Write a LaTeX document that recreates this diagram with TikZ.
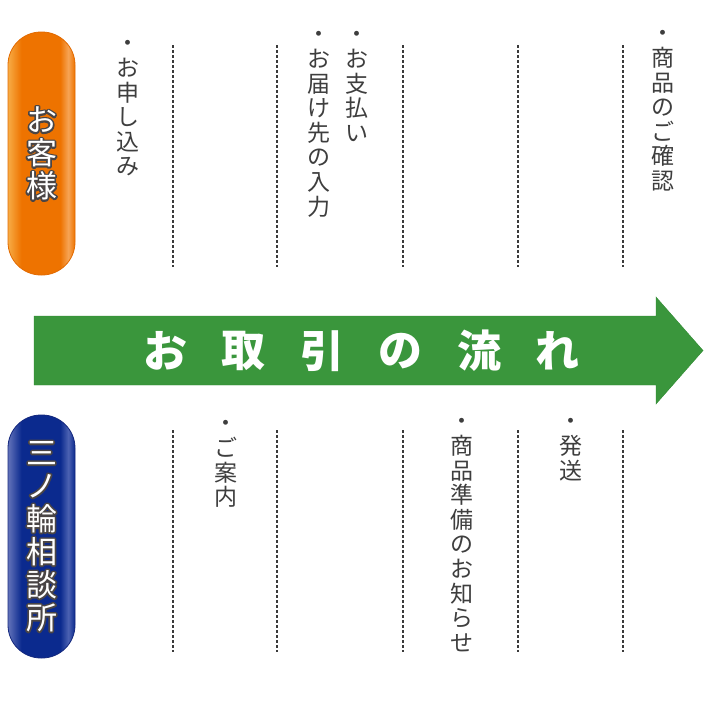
\documentclass[tikz,border=0pt]{standalone}
\usepackage{fontspec}
\setmainfont{Noto Sans CJK JP}
\definecolor{flowgreen}{HTML}{3A963C}
\definecolor{flowedge}{HTML}{2F8A32}
\definecolor{notegray}{HTML}{3E3E3E}
\definecolor{linegray}{HTML}{3A3A3A}
\definecolor{halogray}{HTML}{4A4545}
\definecolor{guestlight}{HTML}{F7AC45}
\definecolor{guestbody}{HTML}{EE7300}
\definecolor{guestshine}{HTML}{F6A455}
\definecolor{guestedge}{HTML}{E26A00}
\definecolor{shoplight}{HTML}{6373BA}
\definecolor{shopbody}{HTML}{0B2A8E}
\definecolor{shopshine}{HTML}{4C62B2}
\definecolor{shopedge}{HTML}{14287E}
\pgfdeclarehorizontalshading{guestshade}{100bp}{color(0bp)=(guestlight); color(25bp)=(guestlight);
  color(35bp)=(guestbody); color(64bp)=(guestbody); color(70bp)=(guestshine); color(75bp)=(guestbody); color(100bp)=(guestbody)}
\pgfdeclarehorizontalshading{shopshade}{100bp}{color(0bp)=(shoplight); color(25bp)=(shoplight);
  color(35bp)=(shopbody); color(64bp)=(shopbody); color(70bp)=(shopshine); color(75bp)=(shopbody); color(100bp)=(shopbody)}
\tikzset{
  stepnote/.style={anchor=north,align=center,inner sep=0pt,text=notegray,
    font=\fontsize{23}{24.6}\selectfont},
  divider/.style={draw=linegray,line width=1.3pt,dash pattern=on 3pt off 2pt},
  pill/.style={draw,line width=0.8pt,rounded corners=33pt,minimum width=67pt,minimum height=243pt,inner sep=0pt},
  pilltext/.style={align=center,inner sep=0pt,font=\fontsize{31}{33}\selectfont},
  flowtext/.style={text=white,inner sep=0pt,font=\fontsize{44}{44}\selectfont\bfseries}
}
%% white text with a gray rim: stroked copy below, plain copy on top
\newcommand{\halotext}[3]{%
  \node[pilltext,text=halogray] (#1rim) at (#2.center)
    {\special{pdf:literal direct 1 Tr 3.4 w 1 j}#3\special{pdf:literal direct 0 Tr}};
  \node[pilltext,text=white] (#1label) at (#2.center) {#3};}
\begin{document}
\begin{tikzpicture}[x=1pt,y=-1pt]
  \useasboundingbox (0,0) rectangle (720,720);
  %% the two parties
  \node[pill,draw=guestedge,shading=guestshade] (guest) at (41.5,153.5) {};
  \node[pill,draw=shopedge,shading=shopshade] (shop) at (41.5,536.5) {};
  \halotext{guest}{guest}{お\\客\\様}
  \halotext{shop}{shop}{三\\ノ\\輪\\相\\談\\所}
  %% flow arrow
  \fill[flowgreen,draw=flowedge] (34,316) -- (656,316) -- (656,297) -- (703,350.5)
    -- (656,404) -- (656,385) -- (34,385) -- cycle;
  \foreach \c [count=\i from 0] in {お,取,引,の,流,れ}
    \node[flowtext] (title\i) at (165+78.5*\i,351) {\c};
  %% dividers
  \foreach \x in {173,277,403,518,623} {
    \draw[divider] (\x,45) -- (\x,267);
    \draw[divider] (\x,430) -- (\x,652);
  }
  %% steps of the customer
  \node[stepnote] (apply) at (127.5,40.5) {・\\お\\申\\し\\込\\み};
  \node[stepnote] (pay) at (357,31.5) {・\\お\\支\\払\\い};
  \node[stepnote] (address) at (319,31.5) {・\\お\\届\\け\\先\\の\\入\\力};
  \node[stepnote] (check) at (663,30.5) {・\\商\\品\\の\\ご\\確\\認};
  %% steps of the shop
  \node[stepnote] (guide) at (226,420.5) {・\\ご\\案\\内};
  \node[stepnote] (notice) at (462,418.5) {・\\商\\品\\準\\備\\の\\お\\知\\ら\\せ};
  \node[stepnote] (ship) at (571,418.5) {・\\発\\送};
\end{tikzpicture}
\end{document}
